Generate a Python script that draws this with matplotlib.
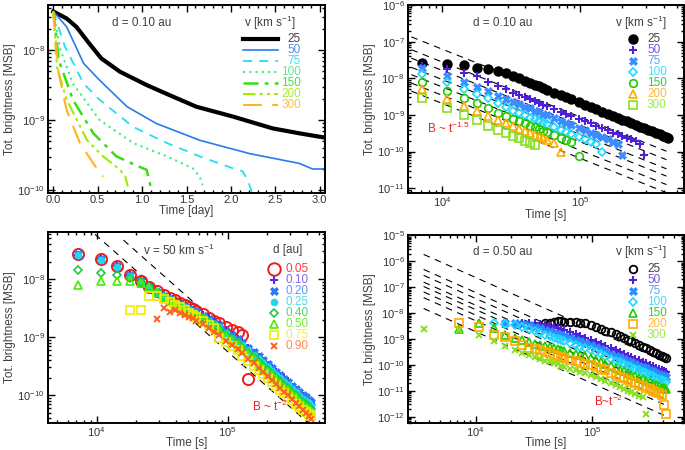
import numpy as np
import matplotlib
matplotlib.use("Agg")
import matplotlib.pyplot as plt
from matplotlib.ticker import MultipleLocator, FormatStrFormatter, LogLocator, NullFormatter

plt.rcParams['font.family'] = ['Liberation Sans', 'DejaVu Sans']
plt.rcParams['mathtext.fontset'] = 'custom'
plt.rcParams['mathtext.rm'] = 'Liberation Sans'
plt.rcParams['mathtext.it'] = 'Liberation Sans:italic'

# ---------------- panel a : d = 0.10 au, time in days (log10 of brightness)
v_labels = ['25', '50', '75', '100', '150', '200', '300']
a_t25 = [0.0, 0.15, 0.26, 0.4, 0.54, 0.75, 1.05, 1.3, 1.61, 2.02, 2.47, 2.77, 3.05]
a_lg25 = [-7.45, -7.55, -7.67, -7.90, -8.12, -8.31, -8.50, -8.64, -8.81, -8.95, -9.12, -9.19, -9.25]
a_t50 = [0.0, 0.15, 0.34, 0.52, 0.83, 1.16, 1.65, 2.21, 2.77, 2.92, 3.05]
a_lg50 = [-7.45, -7.67, -8.19, -8.43, -8.81, -9.05, -9.29, -9.48, -9.62, -9.70, -9.70]
a_t75 = [0.0, 0.13, 0.34, 0.52, 0.9, 1.28, 1.65, 2.02, 2.13, 2.19, 2.24]
a_lg75 = [-7.45, -7.95, -8.48, -8.71, -9.10, -9.33, -9.52, -9.69, -9.73, -9.86, -10.05]
a_t100 = [0.0, 0.08, 0.22, 0.52, 0.9, 1.28, 1.57, 1.65, 1.68]
a_lg100 = [-7.45, -8.0, -8.48, -9.0, -9.33, -9.52, -9.69, -9.81, -9.93]
a_t150 = [0.0, 0.06, 0.22, 0.45, 0.71, 0.97, 1.05, 1.08, 1.11]
a_lg150 = [-7.45, -8.14, -8.71, -9.19, -9.52, -9.67, -9.71, -9.86, -10.04]
a_t200 = [0.0, 0.04, 0.15, 0.38, 0.56, 0.75, 0.81, 0.84]
a_lg200 = [-7.45, -8.24, -8.71, -9.29, -9.52, -9.71, -9.81, -9.95]
a_t300 = [0.0, 0.02, 0.06, 0.15, 0.30, 0.45, 0.56]
a_lg300 = [-7.45, -7.76, -8.33, -8.86, -9.33, -9.62, -9.81]

# output times (hours) shared by the scatter panels
hours = [2, 3, 4, 5, 6, 7, 8, 9, 10, 11, 12, 13, 14, 15, 16, 18, 20, 22, 24, 27,
         30, 33, 36, 40, 44, 48, 52, 56, 60, 65, 70, 75, 80, 86, 92, 98, 104, 110, 115, 120]
hours_d = [1] + hours

# ---------------- panel b : d = 0.10 au (first hour, log10 brightness)
b_first = [2, 2, 2, 2, 2, 2, 2]
b_lg25 = [-7.57, -7.61, -7.65, -7.71, -7.74, -7.80, -7.85, -7.94, -8.00, -8.07,
          -8.12, -8.18, -8.22, -8.27, -8.31, -8.39, -8.46, -8.52, -8.57, -8.65,
          -8.72, -8.78, -8.84, -8.91, -8.97, -9.03, -9.08, -9.13, -9.17, -9.22,
          -9.27, -9.32, -9.36, -9.41, -9.45, -9.49, -9.53, -9.57, -9.60, -9.62]
b_lg50 = [-7.66, -7.75, -7.86, -7.95, -8.09, -8.21, -8.30, -8.39, -8.45, -8.52,
          -8.57, -8.63, -8.67, -8.72, -8.76, -8.84, -8.91, -8.97, -9.02, -9.10,
          -9.17, -9.23, -9.29, -9.36, -9.42, -9.48, -9.53, -9.58, -9.62, -9.67,
          -9.72, -9.80, -10.08]
b_lg75 = [-7.73, -7.94, -8.09, -8.24, -8.36, -8.47, -8.56, -8.64, -8.70, -8.77,
          -8.82, -8.88, -8.92, -8.97, -9.01, -9.09, -9.16, -9.22, -9.27, -9.35,
          -9.42, -9.48, -9.54, -9.61, -9.67, -9.73, -9.80, -10.10]
b_lg100 = [-7.88, -8.09, -8.29, -8.43, -8.55, -8.68, -8.79, -8.88, -8.95, -9.01,
           -9.07, -9.12, -9.17, -9.21, -9.25, -9.33, -9.40, -9.46, -9.52, -9.60,
           -9.67, -9.73, -9.80, -10.00]
b_lg150 = [-8.09, -8.34, -8.54, -8.68, -8.82, -8.94, -9.03, -9.10, -9.17, -9.23,
           -9.29, -9.34, -9.39, -9.43, -9.47, -9.55, -9.62, -9.68, -9.74, -10.11]
b_lg200 = [-8.30, -8.56, -8.75, -8.89, -9.02, -9.13, -9.22, -9.30, -9.37, -9.43,
           -9.49, -9.54, -9.59, -9.63, -9.68, -9.76, -10.00]
b_lg300 = [-8.54, -8.82, -9.00, -9.15, -9.29, -9.41, -9.50, -9.58, -9.64, -9.71,
           -9.76, -9.83]
# t^-1.5 guide lines: times and log10 brightness at both ends
b_guide_t = [6.0e3, 4.2e5]
b_guide_start = [-6.87, -7.22, -7.45, -7.70, -7.90, -8.13, -8.35]
b_guide_end = [-9.64, -9.99, -10.22, -10.47, -10.67, -10.90, -11.12]

# ---------------- panel c : v = 50 km/s, different distances
d_labels = ['0.05', '0.10', '0.20', '0.25', '0.40', '0.50', '0.75', '0.90']
c_first = [2, 2, 2, 2, 2, 2, 5, 8]
c_lg005 = [-7.57, -7.66, -7.78, -7.93, -8.03, -8.13, -8.21, -8.27, -8.32, -8.37,
           -8.41, -8.45, -8.49, -8.52, -8.55, -8.61, -8.67, -8.72, -8.76, -8.82,
           -8.88, -8.91, -8.97, -9.73]
c_lg010 = [-7.58, -7.65, -7.78, -7.93, -8.04, -8.14, -8.22, -8.28, -8.33, -8.38,
           -8.42, -8.46, -8.50, -8.53, -8.56, -8.62, -8.68, -8.74, -8.79, -8.88,
           -8.96, -9.03, -9.09, -9.18, -9.27, -9.35, -9.42, -9.48, -9.54, -9.61,
           -9.67, -9.71, -9.75, -9.86, -9.92, -9.97, -10.02, -10.06, -10.10, -10.14]
c_lg020 = [-7.57, -7.66, -7.78, -7.93, -8.04, -8.14, -8.23, -8.29, -8.34, -8.39,
           -8.43, -8.47, -8.51, -8.54, -8.57, -8.63, -8.69, -8.75, -8.80, -8.89,
           -8.97, -9.04, -9.10, -9.18, -9.26, -9.33, -9.40, -9.47, -9.53, -9.60,
           -9.66, -9.72, -9.77, -9.84, -9.89, -9.95, -10.00, -10.04, -10.08, -10.11]
c_lg025 = [-7.58, -7.67, -7.79, -7.94, -8.05, -8.15, -8.24, -8.31, -8.36, -8.41,
           -8.45, -8.49, -8.53, -8.56, -8.60, -8.66, -8.72, -8.78, -8.83, -8.93,
           -9.01, -9.08, -9.14, -9.23, -9.31, -9.38, -9.45, -9.52, -9.58, -9.65,
           -9.71, -9.77, -9.83, -9.89, -9.95, -10.01, -10.06, -10.10, -10.14, -10.18]
c_lg040 = [-7.85, -7.89, -7.93, -7.98, -8.05, -8.14, -8.23, -8.31, -8.37, -8.42,
           -8.47, -8.51, -8.55, -8.58, -8.62, -8.68, -8.74, -8.80, -8.86, -8.96,
           -9.04, -9.11, -9.18, -9.27, -9.35, -9.43, -9.50, -9.57, -9.63, -9.70,
           -9.76, -9.82, -9.88, -9.94, -10.00, -10.06, -10.11, -10.16, -10.20, -10.24]
c_lg050 = [-8.10, -8.04, -8.04, -8.04, -8.07, -8.14, -8.23, -8.31, -8.38, -8.43,
           -8.48, -8.52, -8.56, -8.60, -8.63, -8.70, -8.76, -8.82, -8.88, -8.98,
           -9.06, -9.13, -9.20, -9.29, -9.38, -9.46, -9.53, -9.60, -9.66, -9.73,
           -9.80, -9.86, -9.91, -9.98, -10.04, -10.10, -10.15, -10.20, -10.24, -10.28]
c_lg075 = [-8.53, -8.53, -8.29, -8.30, -8.34, -8.39, -8.44, -8.49, -8.54, -8.58,
           -8.62, -8.66, -8.73, -8.79, -8.85, -9.01, -9.09, -9.16, -9.23, -9.32,
           -9.41, -9.49, -9.57, -9.64, -9.70, -9.78, -9.85, -9.91, -9.96, -10.03,
           -10.09, -10.15, -10.20, -10.25, -10.29, -10.33, -10.36]
c_lg090 = [-8.69, -8.50, -8.56, -8.54, -8.58, -8.62, -8.65, -8.68, -8.72, -8.78,
           -8.84, -8.91, -8.97, -9.06, -9.14, -9.21, -9.28, -9.37, -9.45, -9.53,
           -9.60, -9.67, -9.74, -9.81, -9.88, -9.94, -10.00, -10.07, -10.13, -10.19,
           -10.25, -10.31, -10.36, -10.41]
c_guide_t0 = [1.6e4, 9.7e3]
c_guide_t1 = [4.17e5, 4.17e5]
c_guide_start = [-7.33, -7.23]
c_guide_end = [-10.16, -10.49]

# ---------------- panel d : d = 0.50 au
d_first = [11, 7, 5, 4, 2, 2, 1]
d_lg25 = [-8.39, -8.36, -8.33, -8.32, -8.30, -8.33, -8.34, -8.35, -8.36, -8.39,
          -8.47, -8.55, -8.62, -8.69, -8.73, -8.80, -8.87, -8.95, -9.03, -9.09,
          -9.16, -9.23, -9.30, -9.36, -9.43, -9.49, -9.55, -9.60, -9.65, -9.69, -9.72]
d_lg50 = [-8.37, -8.37, -8.38, -8.40, -8.44, -8.48, -8.52, -8.57, -8.62, -8.66,
          -8.74, -8.82, -8.89, -8.95, -9.04, -9.12, -9.20, -9.27, -9.36, -9.44,
          -9.51, -9.57, -9.64, -9.69, -9.76, -9.82, -9.87, -9.93, -9.99, -10.04,
          -10.10, -10.14, -10.19, -10.23, -10.27]
d_lg75 = [-8.37, -8.38, -8.42, -8.47, -8.53, -8.59, -8.65,
          -8.70, -8.75, -8.80, -8.85, -8.89, -8.96, -9.03, -9.09, -9.15, -9.23,
          -9.32, -9.40, -9.47, -9.56, -9.64, -9.71, -9.77, -9.84, -9.89, -9.96,
          -10.02, -10.07, -10.13, -10.19, -10.24, -10.30, -10.34, -10.39, -10.43, -10.47]
d_lg100 = [-8.37, -8.40, -8.47, -8.55, -8.62, -8.70, -8.77, -8.84,
           -8.90, -8.95, -9.00, -9.05, -9.09, -9.17, -9.24, -9.31, -9.36, -9.43,
           -9.51, -9.59, -9.66, -9.75, -9.83, -9.90, -9.96, -10.03, -10.08, -10.15,
           -10.21, -10.26, -10.32, -10.38, -10.43, -10.49, -10.53, -10.58, -10.62, -10.66]
d_lg150 = [-8.60, -8.38, -8.57, -8.83, -8.95, -9.03, -9.12, -9.18, -9.23, -9.28,
           -9.32, -9.36, -9.40, -9.44, -9.47, -9.53, -9.58, -9.63, -9.67, -9.73,
           -9.80, -9.88, -9.95, -10.04, -10.12, -10.19, -10.25, -10.31, -10.37, -10.43,
           -10.49, -10.55, -10.60, -10.66, -10.72, -10.77, -10.82, -10.87, -10.90, -10.94]
d_lg200 = [-8.37, -8.55, -8.85, -8.93, -9.06, -9.22, -9.34, -9.38, -9.44, -9.50,
           -9.55, -9.60, -9.65, -9.70, -9.74, -9.80, -9.86, -9.92, -9.96, -10.00,
           -10.06, -10.14, -10.21, -10.30, -10.38, -10.45, -10.52, -10.58, -10.64, -10.70,
           -10.76, -10.82, -10.87, -10.93, -10.99, -11.04, -11.09, -11.14, -11.55, -11.88]
d_lg300 = [-8.60, -8.64, -8.85, -9.07, -9.26, -9.42, -9.52, -9.62, -9.70, -9.77, -9.83,
           -9.89, -9.94, -9.98, -10.03, -10.07, -10.14, -10.21, -10.27, -10.32, -10.40,
           -10.47, -10.55, -10.62, -10.71, -10.79, -10.86, -10.93, -10.99, -11.05, -11.12,
           -11.18, -11.24, -11.88]
d_guide_t = [3.59e3, 4.11e5]
d_guide_start = [-5.73, -6.31, -6.54, -6.80, -6.97, -7.18, -7.40, -7.82]
d_guide_end = [-9.85, -10.43, -10.66, -10.92, -11.09, -11.30, -11.52, -11.94]

FS = 8.5        # annotation / label size
TS = 8          # tick label size


def seg(hrs, first, lg):
    i = hrs.index(first)
    t = np.array(hrs[i:i + len(lg)]) * 3600.0
    return t, 10.0 ** np.array(lg)


def style(ax, logx=True):
    ax.set_yscale('log')
    if logx:
        ax.set_xscale('log')
        ax.xaxis.set_major_locator(LogLocator(base=10, numticks=20))
        ax.xaxis.set_minor_locator(LogLocator(base=10, subs=np.arange(2, 10), numticks=100))
        ax.xaxis.set_minor_formatter(NullFormatter())
    ax.yaxis.set_major_locator(LogLocator(base=10, numticks=20))
    ax.yaxis.set_minor_locator(LogLocator(base=10, subs=np.arange(2, 10), numticks=100))
    ax.yaxis.set_minor_formatter(NullFormatter())
    ax.tick_params(which='both', direction='in', top=True, right=True,
                   color='k', labelcolor='#333333', labelsize=TS, width=1.0, pad=2.5)
    ax.tick_params(axis='x', which='both', pad=1.5)
    ax.tick_params(which='major', length=5)
    ax.tick_params(which='minor', length=2.5)
    for s in ax.spines.values():
        s.set_linewidth(1.4)
    ax.set_ylabel('Tot. brightness [MSB]', fontsize=FS, color='#404040', labelpad=1)


fig = plt.figure(figsize=(6.85, 4.5), dpi=100)
ax_a = fig.add_axes([0.0701, 0.5711, 0.4044, 0.4178])
ax_b = fig.add_axes([0.5956, 0.5711, 0.4029, 0.4178])
ax_c = fig.add_axes([0.0701, 0.0600, 0.4044, 0.4245])
ax_d = fig.add_axes([0.5956, 0.0600, 0.4029, 0.4167])
txt = '#404040'

# ---------- panel a
line_styles = [('k', 3.0, '-'), ('#2a7be8', 1.2, '-'), ('#1fe0ee', 1.3, (0, (5, 4))),
               ('#3cef80', 1.5, (0, (1, 2))), ('#34e010', 1.8, (0, (6, 2.5, 1.5, 2.5))),
               ('#a2ea00', 1.5, (0, (6, 2, 1.5, 2, 1.5, 2))), ('#ffb41f', 1.5, (0, (9, 5)))]
a_label_colors = ['#444444', '#4f8ff0', '#3ae3f0', '#55f090', '#45e030', '#aaee30', '#ffc040']
a_data = [(a_t25, a_lg25), (a_t50, a_lg50), (a_t75, a_lg75), (a_t100, a_lg100),
          (a_t150, a_lg150), (a_t200, a_lg200), (a_t300, a_lg300)]
style(ax_a, logx=False)
rows = 0.819 - 0.0585 * np.arange(7)
for (t, lg), (c, lw, ls), lc, lab, y in zip(a_data, line_styles, a_label_colors, v_labels, rows):
    ax_a.plot(t, 10.0 ** np.array(lg), color=c, lw=lw, ls=ls)
    ax_a.plot([0.704, 0.830], [y, y], transform=ax_a.transAxes, color=c, lw=lw, ls=ls)
    ax_a.text(0.913, y, lab, transform=ax_a.transAxes, ha='right', va='center',
              color=lc, fontsize=FS)
ax_a.set_xlim(-0.06, 3.06)
ax_a.set_ylim(10 ** -10.043, 10 ** -7.357)
ax_a.xaxis.set_major_locator(MultipleLocator(0.5))
ax_a.xaxis.set_minor_locator(MultipleLocator(0.1))
ax_a.xaxis.set_major_formatter(FormatStrFormatter('%.1f'))
ax_a.set_xlabel('Time [day]', fontsize=FS, color=txt, labelpad=0)
ax_a.text(0.339, 0.904, 'd = 0.10 au', transform=ax_a.transAxes, ha='center', va='center',
          fontsize=FS, color=txt)
ax_a.text(0.80, 0.904, 'v [km s$^{-1}$]', transform=ax_a.transAxes, ha='center', va='center',
          fontsize=FS, color=txt)

# marker styles: (marker, colour, size, filled, edge width)
b_marks = [('o', 'k', 6.5, True, 1.0), ('+', '#5020d8', 6.0, True, 1.5),
           ('X', '#3a8cff', 5.5, True, 0.5), ('D', '#1fd8ff', 4.2, False, 1.2),
           ('o', '#22c800', 5.5, False, 1.2), ('^', '#ffaa00', 5.5, False, 1.2),
           ('s', '#88e020', 5.5, False, 1.2)]
b_label_colors = ['#444444', '#7755dd', '#55a8ff', '#44ddff', '#33cc33', '#ffbb33', '#99ee44']


def draw(ax, t, b, mk, **kw):
    m, c, ms, filled, mew = mk
    ax.plot(t, b, ls='none', marker=m, ms=ms, mew=mew, color=c,
            mfc=c if filled else 'none', mec=c, **kw)


def key(ax, marks, labels, colors, xm, xt, y0, dy, fs=FS):
    for i, (mk, lab, lc) in enumerate(zip(marks, labels, colors)):
        y = y0 - dy * i
        draw(ax, [xm], [y], mk, transform=ax.transAxes, clip_on=False)
        ax.text(xt, y, lab, transform=ax.transAxes, ha='left', va='center', color=lc, fontsize=fs)


# ---------- panel b
style(ax_b)
for s0, s1 in zip(b_guide_start, b_guide_end):
    ax_b.plot(b_guide_t, [10 ** s0, 10 ** s1], color='k', lw=0.8, ls=(0, (6, 5)), zorder=1)
b_series = [b_lg25, b_lg50, b_lg75, b_lg100, b_lg150, b_lg200, b_lg300]
for first, lg, mk in zip(b_first, b_series, b_marks):
    t, b = seg(hours, first, lg)
    draw(ax_b, t, b, mk, zorder=2)
ax_b.set_xlim(10 ** 3.754, 10 ** 5.75)
ax_b.set_ylim(10 ** -11.13, 1e-6)
ax_b.set_xlabel('Time [s]', fontsize=FS, color=txt, labelpad=0)
ax_b.text(0.344, 0.904, 'd = 0.10 au', transform=ax_b.transAxes, ha='center', va='center',
          fontsize=FS, color=txt)
ax_b.text(0.844, 0.904, 'v [km s$^{-1}$]', transform=ax_b.transAxes, ha='center', va='center',
          fontsize=FS, color=txt)
ax_b.text(0.069, 0.346, 'B ~ t$^{-1.5}$', transform=ax_b.transAxes, ha='left', va='center',
          fontsize=FS, color='#ee2020')
key(ax_b, b_marks, v_labels, b_label_colors, 0.814, 0.866, 0.818, 0.0585)

# ---------- panel c
c_marks = [('o', '#ee1c1c', 8.0, False, 1.4), ('+', '#5a2ad8', 6.0, True, 1.5),
           ('X', '#2a78ff', 5.5, True, 0.5), ('o', '#22d8f0', 4.5, True, 1.0),
           ('D', '#22c848', 4.2, False, 1.2), ('^', '#44ee00', 5.5, False, 1.2),
           ('s', '#eeee00', 5.5, False, 1.2), ('x', '#ff6020', 5.0, True, 1.4)]
c_label_colors = ['#ff3a3a', '#8866ee', '#5599ff', '#44ddee', '#44dd66', '#77ee33',
                  '#eeee44', '#ff8855']
style(ax_c)
for t0, t1, s0, s1 in zip(c_guide_t0, c_guide_t1, c_guide_start, c_guide_end):
    ax_c.plot([t0, t1], [10 ** s0, 10 ** s1], color='k', lw=0.8, ls=(0, (6, 5)), zorder=1)
c_series = [c_lg005, c_lg010, c_lg020, c_lg025, c_lg040, c_lg050, c_lg075, c_lg090]
for first, lg, mk in zip(c_first, c_series, c_marks):
    t, b = seg(hours, first, lg)
    draw(ax_c, t, b, mk, zorder=2)
ax_c.set_xlim(10 ** 3.628, 10 ** 5.743)
ax_c.set_ylim(10 ** -10.48, 10 ** -7.19)
ax_c.set_xlabel('Time [s]', fontsize=FS, color=txt, labelpad=-1.5)
ax_c.text(0.473, 0.906, 'v = 50 km s$^{-1}$', transform=ax_c.transAxes, ha='center',
          va='center', fontsize=FS, color=txt)
ax_c.text(0.866, 0.906, 'd [au]', transform=ax_c.transAxes, ha='center', va='center',
          fontsize=FS, color=txt)
ax_c.text(0.736, 0.089, 'B ~ t$^{-2}$', transform=ax_c.transAxes, ha='left', va='center',
          fontsize=FS, color='#ee2020')
c_key_marks = [('o', '#ee1c1c', 9.0, False, 1.4)] + c_marks[1:]
key(ax_c, c_key_marks, d_labels, c_label_colors, 0.816, 0.856, 0.807, 0.058)

# ---------- panel d
d_marks = [('o', 'k', 5.5, False, 1.3), ('+', '#5020d8', 6.0, True, 1.5),
           ('X', '#2a8cff', 5.5, True, 0.5), ('D', '#1fd8ff', 4.2, False, 1.2),
           ('^', '#22cc00', 5.5, False, 1.2), ('s', '#ffaa00', 5.5, False, 1.2),
           ('x', '#88e020', 5.0, True, 1.4)]
style(ax_d)
for s0, s1 in zip(d_guide_start, d_guide_end):
    ax_d.plot(d_guide_t, [10 ** s0, 10 ** s1], color='k', lw=0.8, ls=(0, (6, 5)), zorder=1)
d_series = [d_lg25, d_lg50, d_lg75, d_lg100, d_lg150, d_lg200, d_lg300]
for first, lg, mk in zip(d_first, d_series, d_marks):
    t, b = seg(hours_d, first, lg)
    draw(ax_d, t, b, mk, zorder=2)
ax_d.set_xlim(10 ** 3.421, 10 ** 5.786)
ax_d.set_ylim(10 ** -12.24, 1e-5)
ax_d.set_xlabel('Time [s]', fontsize=FS, color=txt, labelpad=-1.5)
ax_d.text(0.344, 0.910, 'd = 0.50 au', transform=ax_d.transAxes, ha='center', va='center',
          fontsize=FS, color=txt)
ax_d.text(0.844, 0.910, 'v [km s$^{-1}$]', transform=ax_d.transAxes, ha='center', va='center',
          fontsize=FS, color=txt)
ax_d.text(0.674, 0.117, 'B~t$^{-2}$', transform=ax_d.transAxes, ha='left', va='center',
          fontsize=FS, color='#ee2020')
key(ax_d, d_marks, v_labels, b_label_colors, 0.814, 0.866, 0.823, 0.0588)

fig.savefig('out.png', dpi=100)
